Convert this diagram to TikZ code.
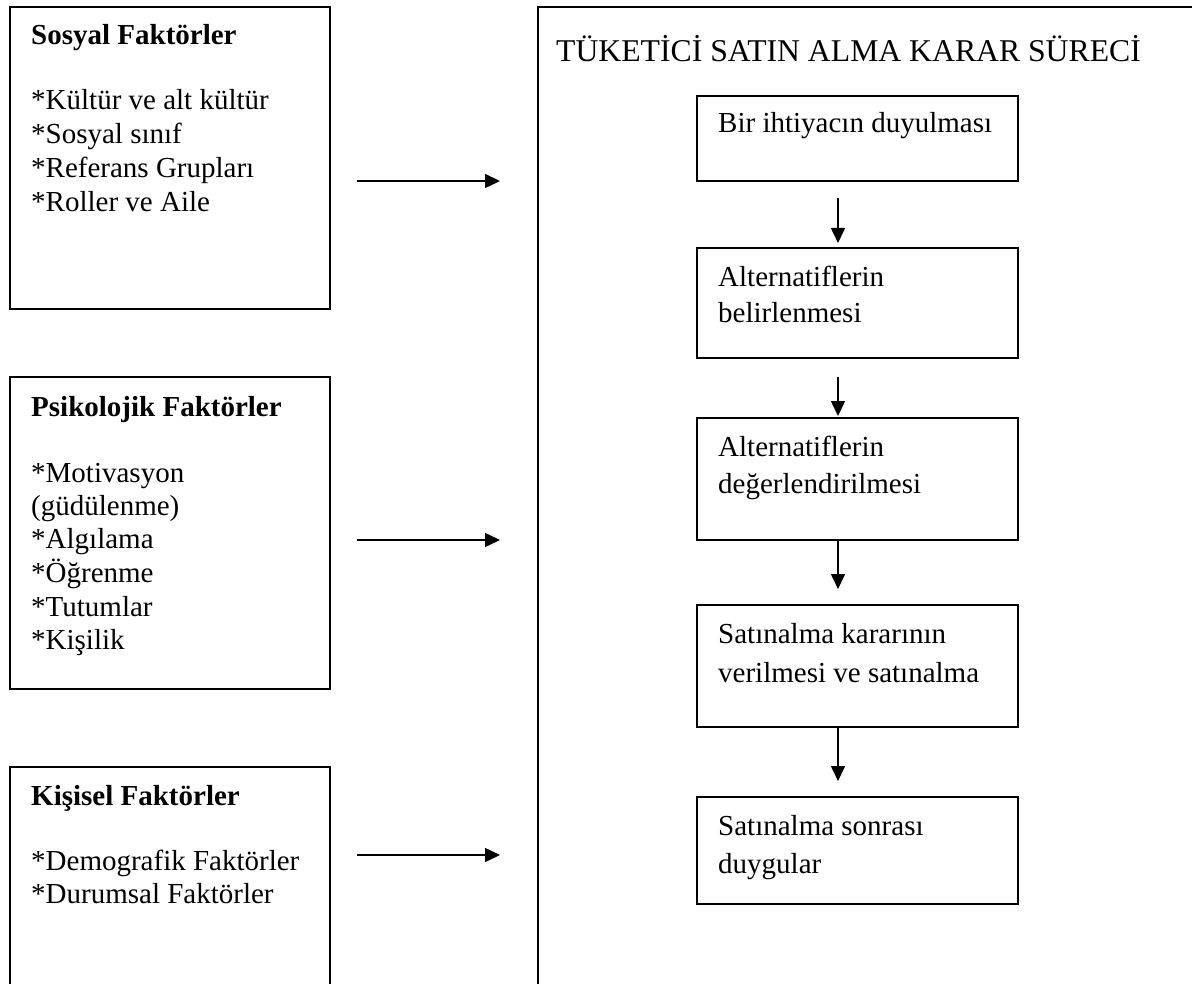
\documentclass[tikz,border=0pt]{standalone}
\usepackage{fontspec}
\setmainfont{Liberation Serif}
\usetikzlibrary{arrows.meta,fit}
\begin{document}
\begin{tikzpicture}[x=1pt,y=-1pt,
  box/.style={draw, line width=2pt, inner sep=0pt},
  arr/.style={line width=1.6pt, -{Triangle[length=15pt,width=14pt]}},
  txt/.style={anchor=base west, inner sep=0pt, font=\fontsize{29}{34}\selectfont},
  hdr/.style={txt, font=\fontsize{29}{34}\selectfont\bfseries},
  ttl/.style={anchor=base west, inner sep=0pt, font=\fontsize{31.7}{36}\selectfont}]
\useasboundingbox (0,0) rectangle (1192,984);
\fill[white] (0,0) rectangle (1192,984);
\clip (0,0) rectangle (1192,984);

% left boxes
\node[box, fit={(9.6,7.5) (330,309)}] (sos) {};
\node[box, fit={(9.6,377) (330,689)}] (psy) {};
\node[box, fit={(9.6,767) (330,1010)}] (kis) {};
% big process box
\node[box, fit={(538,7.5) (1210,1010)}] (big) {};

% Sosyal
\node[hdr] (sosh) at (31,45) {Sosyal Faktörler};
\node[txt] (sos1) at (31,110) {*Kültür ve alt kültür};
\node[txt] (sos2) at (31,144) {*Sosyal sınıf};
\node[txt] (sos3) at (31,178) {*Referans Grupları};
\node[txt] (sos4) at (31,212) {*Roller ve Aile};

% Psikolojik
\node[hdr] (psyh) at (31,416) {Psikolojik Faktörler};
\node[txt] (psy1) at (31,482) {*Motivasyon};
\node[txt] (psy2) at (31,515) {(güdülenme)};
\node[txt] (psy3) at (31,548) {*Algılama};
\node[txt] (psy4) at (31,582) {*Öğrenme};
\node[txt] (psy5) at (31,616) {*Tutumlar};
\node[txt] (psy6) at (31,649) {*Kişilik};

% Kisisel
\node[hdr] (kish) at (31,805) {Kişisel Faktörler};
\node[txt] (kis1) at (31,870) {*Demografik Faktörler};
\node[txt] (kis2) at (31,903) {*Durumsal Faktörler};

% title
\node[ttl] (title) at (556,62) {TÜKETİCİ SATIN ALMA KARAR SÜRECİ};

% process boxes
\node[box, fit={(697,96) (1018,181)}] (b1) {};
\node[box, fit={(697,248) (1018,358)}] (b2) {};
\node[box, fit={(697,418) (1018,540)}] (b3) {};
\node[box, fit={(697,605) (1018,727)}] (b4) {};
\node[box, fit={(697,797) (1018,904)}] (b5) {};

\node[txt] (b1t) at (718,133) {Bir ihtiyacın duyulması};
\node[txt] (b2t1) at (718,287) {Alternatiflerin};
\node[txt] (b2t2) at (718,323) {belirlenmesi};
\node[txt] (b3t1) at (718,456) {Alternatiflerin};
\node[txt] (b3t2) at (718,493) {değerlendirilmesi};
\node[txt] (b4t1) at (718,643) {Satınalma kararının};
\node[txt] (b4t2) at (718,682) {verilmesi ve satınalma};
\node[txt] (b5t1) at (718,835) {Satınalma sonrası};
\node[txt] (b5t2) at (718,873) {duygular};

% horizontal arrows
\coordinate (h1) at (0,181);
\coordinate (h2) at (0,540);
\coordinate (h3) at (0,855);
\draw[arr, shorten <=26pt, shorten >=37pt] (sos.east |- h1) -- (big.west |- h1);
\draw[arr, shorten <=26pt, shorten >=37pt] (psy.east |- h2) -- (big.west |- h2);
\draw[arr, shorten <=26pt, shorten >=37pt] (kis.east |- h3) -- (big.west |- h3);

% vertical arrows
\coordinate (ax) at (838,0);
\draw[arr, shorten <=16pt, shorten >=4pt] (b1.south -| ax) -- (b2.north -| ax);
\draw[arr, shorten <=18pt, shorten >=1pt] (b2.south -| ax) -- (b3.north -| ax);
\draw[arr, shorten >=15pt] (b3.south -| ax) -- (b4.north -| ax);
\draw[arr, shorten >=15pt] (b4.south -| ax) -- (b5.north -| ax);
\end{tikzpicture}
\end{document}
